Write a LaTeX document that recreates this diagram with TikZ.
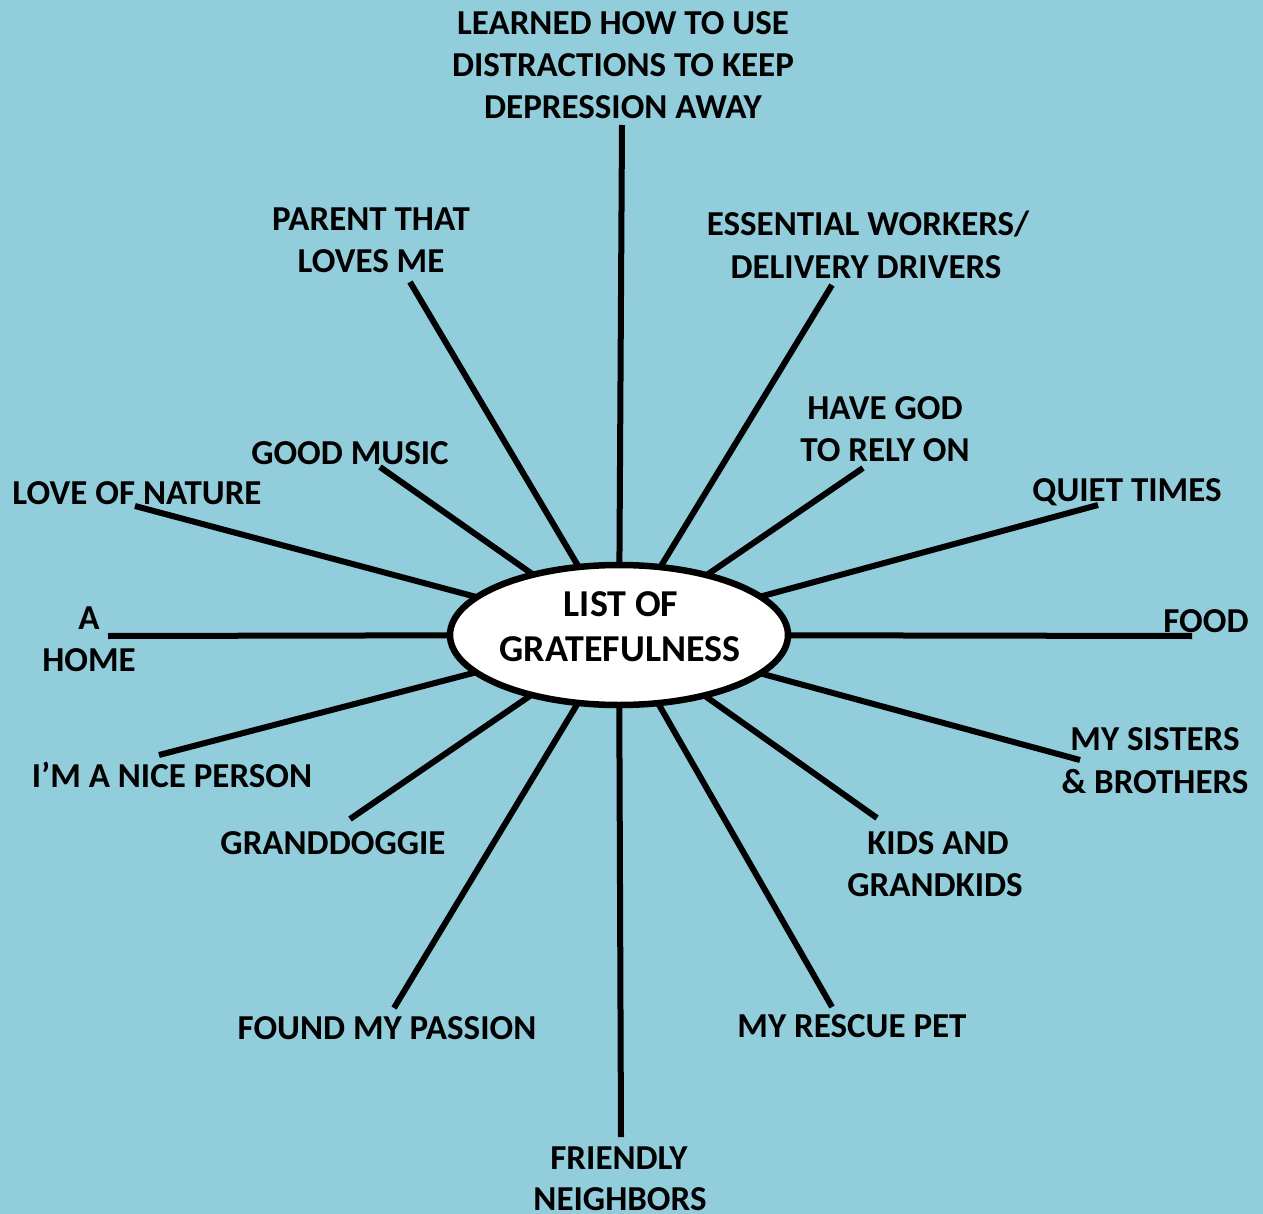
\documentclass[tikz,border=0pt]{standalone}
\usepackage{fontspec}
\setmainfont{Carlito}
\usetikzlibrary{shapes.geometric}
\definecolor{sky}{HTML}{92CDDC}
\begin{document}
\begin{tikzpicture}[x=1pt,y=-1pt,
  spoke/.style={line width=6pt,black},
  lbl/.style={font=\fontsize{35}{42}\selectfont\bfseries,inner sep=0pt,anchor=base,align=center,yshift=-1.5pt},
  hubtext/.style={lbl,font=\fontsize{38}{45}\selectfont\bfseries},
  hub/.style={ellipse,draw=black,line width=6.5pt,fill=white,minimum width=338pt,minimum height=140pt,inner sep=0pt}]
\fill[sky] (0,0) rectangle (1263,1214);
\useasboundingbox (0,0) rectangle (1263,1214);

% centre of the hub and outer ends of the spokes
\coordinate (c) at (619,635);
\coordinate (eTop) at (622,125);
\coordinate (eParent) at (410,282);
\coordinate (eEssential) at (832,285);
\coordinate (eGod) at (863,468);
\coordinate (eQuiet) at (1098,505);
\coordinate (eFood) at (1192,636);
\coordinate (eSisters) at (1080,760);
\coordinate (eKids) at (877,818);
\coordinate (eRescue) at (832,1007);
\coordinate (eFriendly) at (621,1137);
\coordinate (ePassion) at (394,1008);
\coordinate (eDoggie) at (350,819);
\coordinate (eNice) at (159,755);
\coordinate (eHome) at (108,636);
\coordinate (eNature) at (135,506);
\coordinate (eMusic) at (380,467);

\foreach \e in {eTop,eParent,eEssential,eGod,eQuiet,eFood,eSisters,eKids,eRescue,eFriendly,ePassion,eDoggie,eNice,eHome,eNature,eMusic}
  \draw[spoke] (c) -- (\e);

\node[hub] (center) at (c) {};
\node[hubtext] (hubA) at (621,615) {LIST OF};
\node[hubtext] (hubB) at (620,660) {GRATEFULNESS};

% labels
\node[lbl] (t1) at (623,33) {LEARNED HOW TO USE};
\node[lbl] (t2) at (623,75) {DISTRACTIONS TO KEEP};
\node[lbl] (t3) at (623,117) {DEPRESSION AWAY};
\node[lbl] (p1) at (371,229) {PARENT THAT};
\node[lbl] (p2) at (371,271) {LOVES ME};
\node[lbl] (w1) at (868,234) {ESSENTIAL WORKERS/};
\node[lbl] (w2) at (866,277) {DELIVERY DRIVERS};
\node[lbl] (g1) at (885,418) {HAVE GOD};
\node[lbl] (g2) at (885,460) {TO RELY ON};
\node[lbl] (m1) at (350,463) {GOOD MUSIC};
\node[lbl] (n1) at (137,503) {LOVE OF NATURE};
\node[lbl] (q1) at (1127,500) {QUIET TIMES};
\node[lbl] (h1) at (89,628) {A};
\node[lbl] (h2) at (89,670) {HOME};
\node[lbl] (f1) at (1206,631) {FOOD};
\node[lbl] (s1) at (1155,749) {MY SISTERS};
\node[lbl] (s2) at (1155,792) {\& BROTHERS};
\node[lbl] (i1) at (172,786) {I’M A NICE PERSON};
\node[lbl] (d1) at (333,853) {GRANDDOGGIE};
\node[lbl] (k1) at (938,853) {KIDS AND};
\node[lbl] (k2) at (935,895) {GRANDKIDS};
\node[lbl] (fp) at (387,1038) {FOUND MY PASSION};
\node[lbl] (rp) at (852,1036) {MY RESCUE PET};
\node[lbl] (fn1) at (619,1168) {FRIENDLY};
\node[lbl] (fn2) at (620,1209) {NEIGHBORS};
\end{tikzpicture}
\end{document}
